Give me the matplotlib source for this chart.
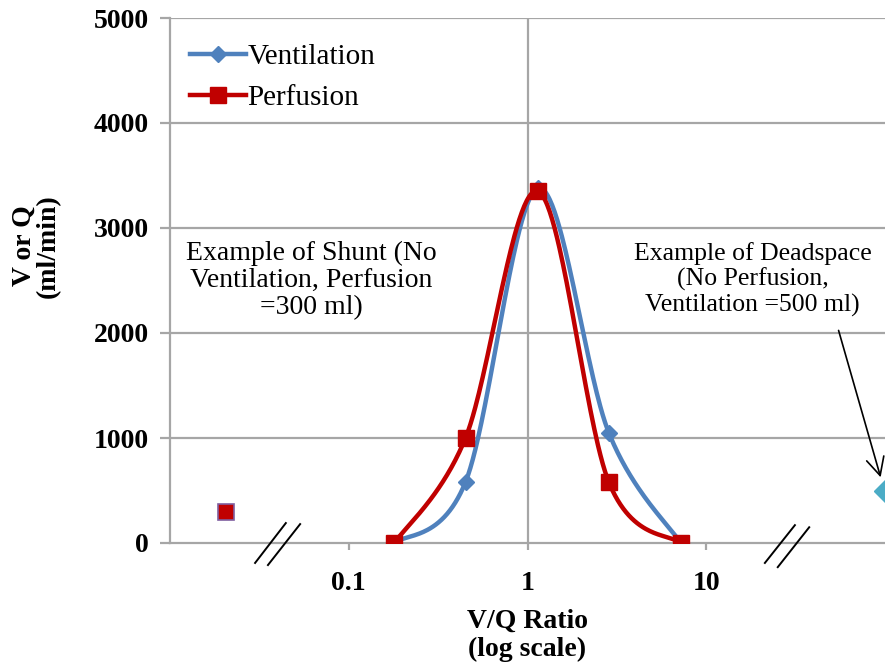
import numpy as np
import matplotlib
matplotlib.use("Agg")
import matplotlib.pyplot as plt
from matplotlib.lines import Line2D

# --- data ---
vq_ratio = [0.18, 0.45, 1.14, 2.85, 7.2]
ventilation = [0, 580, 3380, 1050, 0]
perfusion = [0, 1000, 3350, 580, 0]

shunt_x, shunt_y = 0.0205, 300
dead_x, dead_y = 100, 500

x_ticks = [0.1, 1, 10]
x_tick_labels = ["0.1", "1", "10"]
y_ticks = [0, 1000, 2000, 3000, 4000, 5000]

BLUE = "#4F81BD"
RED = "#C00000"
GRID = "#A6A6A6"

plt.rcParams["font.family"] = ["Liberation Serif", "DejaVu Serif"]


def smooth(xs, ys, n=60):
    """Catmull-Rom curve through the points, done in log-x space (like Excel smoothing)."""
    lx = np.log10(xs)
    pts = np.column_stack([lx, ys]).astype(float)
    pts = np.vstack([pts[0], pts, pts[-1]])
    out = []
    for i in range(1, len(pts) - 2):
        p0, p1, p2, p3 = pts[i - 1], pts[i], pts[i + 1], pts[i + 2]
        c1 = p1 + (p2 - p0) / 6.0
        c2 = p2 - (p3 - p1) / 6.0
        t = np.linspace(0, 1, n)[:, None]
        seg = ((1 - t) ** 3) * p1 + 3 * ((1 - t) ** 2) * t * c1 + 3 * (1 - t) * t ** 2 * c2 + t ** 3 * p2
        out.append(seg if i == 1 else seg[1:])
    out = np.vstack(out)
    return 10 ** out[:, 0], out[:, 1]


fig = plt.figure(figsize=(8.85, 6.68), dpi=100)
ax = fig.add_axes([170 / 885, 1 - 543 / 668, 715 / 885, 525 / 668])

ax.set_xscale("log")
ax.set_xlim(0.01, 100)
ax.set_ylim(0, 5000)

# grid
for y in y_ticks[1:]:
    ax.axhline(y, color=GRID, lw=1.6, zorder=0)
ax.axvline(1, color=GRID, lw=1.6, zorder=0)

# series
sx, sy = smooth(vq_ratio, ventilation)
ax.plot(sx, sy, color=BLUE, lw=3.2, zorder=3)
ax.plot(vq_ratio, ventilation, ls="none", marker="D", ms=8, color=BLUE, zorder=4)
px, py = smooth(vq_ratio, perfusion)
ax.plot(px, py, color=RED, lw=3.2, zorder=5)
ax.plot(vq_ratio, perfusion, ls="none", marker="s", ms=11, color=RED, zorder=6)

# single example points
ax.plot([shunt_x], [shunt_y], ls="none", marker="s", ms=11, color=RED,
        mec="#7F5FA0", mew=1.2, zorder=6)
ax.plot([dead_x], [dead_y], ls="none", marker="D", ms=11, color="#4BACC6",
        clip_on=True, zorder=6)

# legend
handles = [
    Line2D([], [], color=BLUE, lw=3.2, marker="D", ms=8),
    Line2D([], [], color=RED, lw=3.2, marker="s", ms=11),
]
ax.legend(handles, ["Ventilation", "Perfusion"], loc="upper left",
          bbox_to_anchor=(0.0, 0.99), frameon=False, fontsize=21,
          handlelength=1.9, handletextpad=0.05, labelspacing=0.5,
          borderaxespad=0.3)

# spines and ticks
for s in ["top", "right"]:
    ax.spines[s].set_visible(False)
for s in ["left", "bottom"]:
    ax.spines[s].set_color(GRID)
    ax.spines[s].set_linewidth(1.6)

ax.set_yticks(y_ticks)
ax.set_yticklabels([str(v) for v in y_ticks], fontweight="bold", fontsize=20)
ax.set_xticks(x_ticks)
ax.set_xticklabels(x_tick_labels, fontweight="bold", fontsize=20)
ax.xaxis.set_minor_locator(plt.NullLocator())
ax.tick_params(axis="y", length=7, width=1.6, color=GRID, pad=8)
ax.tick_params(axis="x", length=5, width=1.6, color=GRID, pad=15)

ax.set_xlabel("V/Q Ratio\n(log scale)", fontsize=20, fontweight="bold",
              linespacing=1.2, labelpad=9)
ax.set_ylabel("V or Q\n(ml/min)", fontsize=20, fontweight="bold",
              linespacing=0.95)
ax.yaxis.set_label_coords(-0.153, 0.566)

# axis break marks
for (x0, y0, x1, y1) in [(0.119, -0.038, 0.162, 0.038), (0.137, -0.042, 0.182, 0.036),
                         (0.832, -0.038, 0.874, 0.034), (0.850, -0.046, 0.894, 0.030)]:
    ax.add_line(Line2D([x0, x1], [y0, y1], transform=ax.transAxes, color="black",
                       lw=1.4, clip_on=False, zorder=7))

# annotations
ax.text(0.198, 0.500, "Example of Shunt (No\nVentilation, Perfusion\n=300 ml)",
        transform=ax.transAxes, ha="center", va="center", fontsize=20,
        linespacing=1.1, multialignment="center")
ax.text(0.815, 0.502, "Example of Deadspace\n(No Perfusion,\nVentilation =500 ml)",
        transform=ax.transAxes, ha="center", va="center", fontsize=18.5,
        linespacing=1.15, multialignment="center")
ax.annotate("", xy=(0.995, 0.12), xycoords="axes fraction",
            xytext=(0.934, 0.41), textcoords="axes fraction",
            arrowprops=dict(arrowstyle="->", color="black", lw=1.2,
                            mutation_scale=32))

fig.savefig("out.png", dpi=100)
